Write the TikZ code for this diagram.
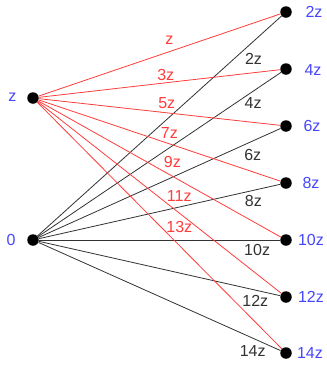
\documentclass[tikz,border=0pt]{standalone}
\usepackage{fontspec}
\setmainfont{Liberation Sans}
\definecolor{lred}{RGB}{255,60,60}
\definecolor{lblue}{RGB}{70,70,255}
\definecolor{lblk}{RGB}{50,50,50}
\begin{document}
\begin{tikzpicture}[x=1pt,y=-1pt,
  dot/.style={circle,fill=black,inner sep=0pt,minimum size=11.5pt},
  vlbl/.style={text=lblue,font=\fontsize{16}{16}\selectfont,inner sep=0pt},
  rlbl/.style={text=lred,font=\fontsize{16}{16}\selectfont,inner sep=0pt},
  klbl/.style={text=lblk,font=\fontsize{16}{16}\selectfont,inner sep=0pt},
  redge/.style={draw=lred,line width=0.8pt},
  kedge/.style={draw=lblk,line width=0.8pt}]
\useasboundingbox (0,0) rectangle (327,365);
\node[dot] (z) at (33,98) {};
\node[dot] (o) at (33,240) {};
\node[dot] (r2) at (286,12) {};
\node[dot] (r4) at (286,69) {};
\node[dot] (r6) at (286,126) {};
\node[dot] (r8) at (286,183) {};
\node[dot] (r10) at (286,240) {};
\node[dot] (r12) at (286,297) {};
\node[dot] (r14) at (286,353) {};
\node[vlbl] (lz) at (12.5,97) {z};
\node[vlbl] (l0) at (11,240) {0};
\node[vlbl] (l2) at (314,12) {2z};
\node[vlbl] (l4) at (313,70) {4z};
\node[vlbl] (l6) at (312,126) {6z};
\node[vlbl] (l8) at (311,183) {8z};
\node[vlbl] (l10) at (311,240) {10z};
\node[vlbl] (l12) at (311,297) {12z};
\node[vlbl] (l14) at (310,353) {14z};
% black edges from 0
\path[kedge] (o) -- (r2) node[klbl,pos=0.885,yshift=-17.8pt] (k2) {2z};
\path[kedge] (o) -- (r4) node[klbl,pos=0.885,yshift=-11.3pt] (k4) {4z};
\path[kedge] (o) -- (r6) node[klbl,pos=0.885,yshift=-14pt] (k6) {6z};
\path[kedge] (o) -- (r8) node[klbl,pos=0.889,yshift=-10.7pt] (k8) {8z};
\path[kedge] (o) -- (r10) node[klbl,pos=0.905,yshift=-10pt] (k10) {10z};
\path[kedge] (o) -- (r12) node[klbl,pos=0.897,yshift=-11pt] (k12) {12z};
\path[kedge] (o) -- (r14) node[klbl,pos=0.885,yshift=-13pt] (k14) {14z};
% red edges from z
\path[redge] (z) -- (r2) node[rlbl,pos=0.541,yshift=11.5pt] (e1) {z};
\path[redge] (z) -- (r4) node[rlbl,pos=0.526,yshift=7.7pt] (e3) {3z};
\path[redge] (z) -- (r6) node[rlbl,pos=0.53,yshift=10pt] (e5) {5z};
\path[redge] (z) -- (r8) node[rlbl,pos=0.541,yshift=11pt] (e7) {7z};
\path[redge] (z) -- (r10) node[rlbl,pos=0.553,yshift=14.5pt] (e9) {9z};
\path[redge] (z) -- (r12) node[rlbl,pos=0.581,yshift=16.6pt] (e11) {11z};
\path[redge] (z) -- (r14) node[rlbl,pos=0.581,yshift=18pt] (e13) {13z};
\end{tikzpicture}
\end{document}
